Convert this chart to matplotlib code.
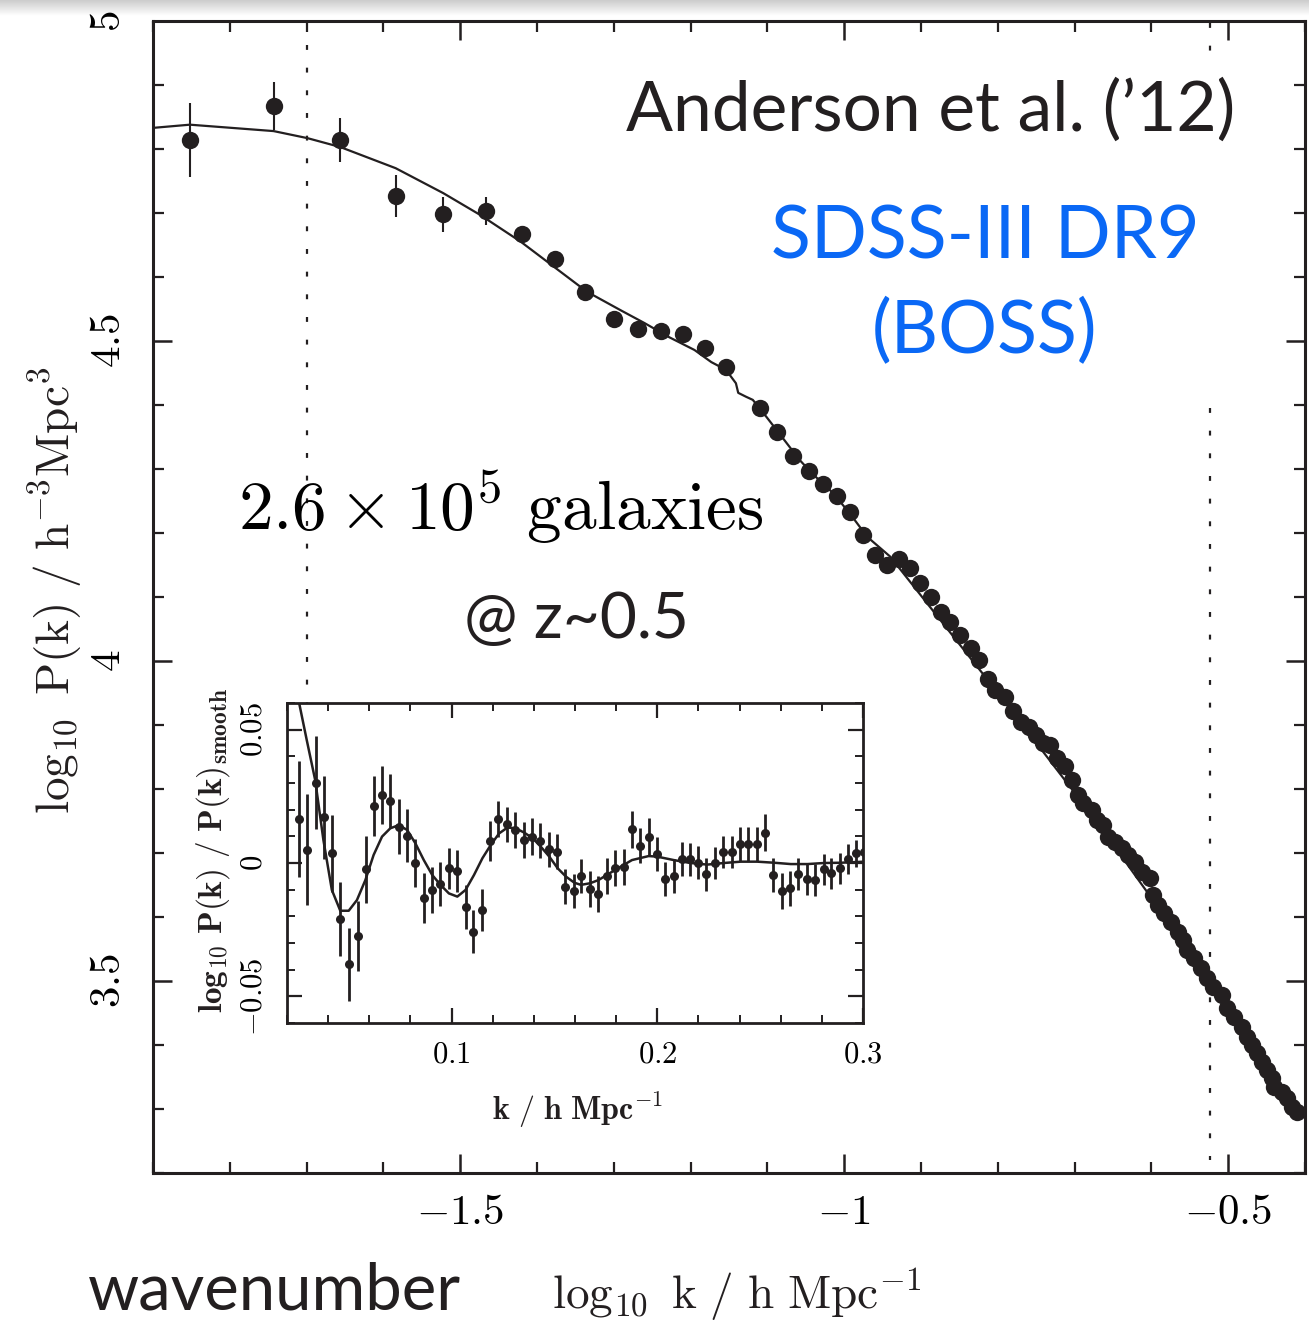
import matplotlib
matplotlib.use("Agg")
import matplotlib.pyplot as plt
import numpy as np
from matplotlib.ticker import FixedLocator, FixedFormatter, MultipleLocator

plt.rcParams['mathtext.fontset'] = 'cm'
plt.rcParams['axes.unicode_minus'] = True

# ---------------- main panel data: log10 k , log10 P(k) ----------------
main_logk = [-1.852, -1.743, -1.656, -1.583, -1.522, -1.467, -1.419, -1.377,
             -1.337, -1.300, -1.268, -1.238, -1.210, -1.181, -1.154, -1.109,
             -1.087, -1.067, -1.046, -1.028, -1.009, -0.992, -0.975, -0.960,
             -0.944, -0.928, -0.914, -0.901, -0.887, -0.874, -0.862, -0.849,
             -0.835, -0.824, -0.813, -0.803, -0.791, -0.780, -0.770, -0.760,
             -0.750, -0.741, -0.732, -0.723, -0.712, -0.704, -0.695, -0.689,
             -0.677, -0.671, -0.663, -0.656, -0.647, -0.638, -0.631, -0.622,
             -0.612, -0.602, -0.598, -0.592, -0.583, -0.574, -0.566, -0.559,
             -0.553, -0.544, -0.536, -0.528, -0.520, -0.508, -0.501, -0.492,
             -0.482, -0.475, -0.469, -0.462, -0.456, -0.449, -0.443, -0.440,
             -0.430, -0.423, -0.417, -0.410]
main_logP = [4.814, 4.867, 4.814, 4.727, 4.698, 4.703, 4.667, 4.628,
             4.577, 4.534, 4.519, 4.516, 4.511, 4.489, 4.459, 4.395,
             4.358, 4.320, 4.297, 4.277, 4.258, 4.233, 4.197, 4.166,
             4.150, 4.159, 4.145, 4.122, 4.100, 4.077, 4.061, 4.041,
             4.020, 4.002, 3.972, 3.955, 3.944, 3.922, 3.905, 3.897,
             3.884, 3.872, 3.869, 3.848, 3.836, 3.814, 3.791, 3.778,
             3.767, 3.752, 3.744, 3.725, 3.717, 3.708, 3.697, 3.686,
             3.670, 3.661, 3.634, 3.619, 3.606, 3.592, 3.577, 3.564,
             3.548, 3.536, 3.520, 3.505, 3.491, 3.478, 3.458, 3.444,
             3.428, 3.413, 3.400, 3.388, 3.373, 3.361, 3.348, 3.334,
             3.327, 3.317, 3.303, 3.295]
# error bars of the first (large-scale) points
main_err = [0.058, 0.037, 0.034, 0.033, 0.027, 0.022, 0.013, 0.010,
            0.010, 0.008, 0.007, 0.006, 0.006, 0.006, 0.006]

# best-fit model curve in the main panel
model_logk = [-1.900, -1.852, -1.743, -1.699, -1.656, -1.584, -1.522, -1.474,
              -1.421, -1.378, -1.335, -1.291, -1.260, -1.228, -1.195, -1.173,
              -1.154, -1.141, -1.138, -1.128, -1.119, -1.101, -1.081, -1.058,
              -1.040, -1.015, -0.993, -0.970, -0.940, -0.803, -0.673, -0.544,
              -0.408]
model_logP = [4.833, 4.838, 4.828, 4.817, 4.803, 4.770, 4.731, 4.697,
              4.655, 4.616, 4.577, 4.548, 4.528, 4.506, 4.486, 4.467,
              4.455, 4.434, 4.419, 4.413, 4.408, 4.381, 4.350, 4.314,
              4.291, 4.263, 4.231, 4.194, 4.163, 3.955, 3.752, 3.536,
              3.291]

# fitting range markers (log10 k)
range_lo = -1.700
range_hi = -0.524

# ---------------- inset data: k , log10 P/P_smooth ----------------
ins_k = [0.0259, 0.0299, 0.0340, 0.0380, 0.0418, 0.0459, 0.0499, 0.0543,
         0.0584, 0.0621, 0.0662, 0.0702, 0.0743, 0.0784, 0.0824, 0.0865,
         0.0906, 0.0946, 0.0987, 0.1028, 0.1068, 0.1106, 0.1146, 0.1187,
         0.1228, 0.1268, 0.1309, 0.1350, 0.1390, 0.1431, 0.1472, 0.1512,
         0.1553, 0.1594, 0.1629, 0.1673, 0.1714, 0.1755, 0.1795, 0.1836,
         0.1877, 0.1917, 0.1958, 0.1999, 0.2039, 0.2080, 0.2121, 0.2161,
         0.2199, 0.2239, 0.2280, 0.2320, 0.2361, 0.2402, 0.2442, 0.2483,
         0.2523, 0.2564, 0.2605, 0.2645, 0.2686, 0.2727, 0.2767, 0.2808,
         0.2845, 0.2886, 0.2927, 0.2966, 0.3006]
ins_r = [0.0164, 0.0049, 0.0301, 0.0171, 0.0036, -0.0211, -0.0380, -0.0273,
         -0.0024, 0.0214, 0.0254, 0.0232, 0.0136, 0.0102, 0.0000, -0.0130,
         -0.0101, -0.0079, -0.0020, -0.0030, -0.0164, -0.0258, -0.0176, 0.0082,
         0.0166, 0.0145, 0.0124, 0.0086, 0.0099, 0.0084, 0.0051, 0.0043,
         -0.0089, -0.0105, -0.0048, -0.0098, -0.0116, -0.0048, -0.0018, -0.0014,
         0.0126, 0.0065, 0.0099, 0.0034, -0.0060, -0.0048, 0.0014, 0.0014,
         0.0001, -0.0042, 0.0000, 0.0042, 0.0042, 0.0071, 0.0071, 0.0071,
         0.0114, -0.0045, -0.0105, -0.0095, -0.0042, -0.0061, -0.0064, -0.0024,
         -0.0039, -0.0020, 0.0015, 0.0036, 0.0042]
ins_err = [0.0217, 0.0208, 0.0174, 0.0155, 0.0144, 0.0139, 0.0137, 0.0132,
           0.0125, 0.0112, 0.0108, 0.0100, 0.0103, 0.0100, 0.0090, 0.0094,
           0.0086, 0.0083, 0.0078, 0.0077, 0.0083, 0.0080, 0.0080, 0.0075,
           0.0067, 0.0066, 0.0069, 0.0068, 0.0068, 0.0066, 0.0066, 0.0065,
           0.0065, 0.0064, 0.0064, 0.0068, 0.0068, 0.0068, 0.0067, 0.0067,
           0.0069, 0.0066, 0.0068, 0.0064, 0.0064, 0.0063, 0.0063, 0.0062,
           0.0062, 0.0062, 0.0061, 0.0061, 0.0061, 0.0065, 0.0065, 0.0065,
           0.0068, 0.0065, 0.0068, 0.0065, 0.0060, 0.0060, 0.0059, 0.0058,
           0.0058, 0.0057, 0.0056, 0.0052, 0.0050]
ins_model_k = [0.0259, 0.0296, 0.0337, 0.0377, 0.0418, 0.0459, 0.0500, 0.0540,
               0.0581, 0.0621, 0.0662, 0.0702, 0.0743, 0.0784, 0.0824, 0.0865,
               0.0906, 0.0946, 0.0987, 0.1028, 0.1068, 0.1109, 0.1150, 0.1190,
               0.1231, 0.1272, 0.1312, 0.1353, 0.1394, 0.1434, 0.1475, 0.1516,
               0.1556, 0.1597, 0.1629, 0.1673, 0.1714, 0.1795, 0.1877, 0.1958,
               0.1999, 0.2080, 0.2161, 0.2243, 0.2324, 0.2405, 0.2486, 0.2568,
               0.2649, 0.2730, 0.2811, 0.2893, 0.3006]
ins_model_r = [0.0600, 0.0461, 0.0311, 0.0086, -0.0101, -0.0179, -0.0179, -0.0139,
               -0.0064, 0.0030, 0.0099, 0.0130, 0.0142, 0.0124, 0.0074, 0.0011,
               -0.0045, -0.0082, -0.0114, -0.0126, -0.0101, -0.0045, 0.0018, 0.0067,
               0.0111, 0.0133, 0.0130, 0.0114, 0.0093, 0.0061, 0.0024, -0.0020,
               -0.0051, -0.0074, -0.0082, -0.0076, -0.0064, -0.0026, 0.0011, 0.0026,
               0.0024, 0.0011, 0.0000, -0.0006, 0.0000, 0.0005, 0.0005, 0.0001,
               -0.0004, -0.0004, 0.0000, 0.0001, 0.0005]

# ---------------- figure ----------------
W, H = 1309, 1325
fig = plt.figure(figsize=(W / 100, H / 100), dpi=100)
fig.patch.set_facecolor('white')

def fx(px):
    return px / W

def fy(py):
    return 1 - py / H

INK = '#231f20'

# slide shadow at the very top
gax = fig.add_axes([0, fy(16), 1, 16 / H])
grad = np.linspace(0.80, 1.0, 32).reshape(-1, 1)
gax.imshow(grad, aspect='auto', cmap='gray', vmin=0, vmax=1)
gax.set_axis_off()

ax = fig.add_axes([fx(153), fy(1173), fx(1305) - fx(153), fy(21) - fy(1173)])
ax.set_xlim(-1.9, -0.4)
ax.set_ylim(3.2, 5.0)
for s in ax.spines.values():
    s.set_linewidth(2.2)
    s.set_color(INK)

ax.xaxis.set_major_locator(FixedLocator([-1.5, -1.0, -0.5]))
ax.xaxis.set_major_formatter(FixedFormatter([r'$-1.5$', r'$-1$', r'$-0.5$']))
ax.xaxis.set_minor_locator(MultipleLocator(0.1))
ax.yaxis.set_major_locator(FixedLocator([3.5, 4.0, 4.5, 5.0]))
ax.yaxis.set_major_formatter(FixedFormatter([r'$3.5$', r'$4$', r'$4.5$', r'$5$']))
ax.yaxis.set_minor_locator(MultipleLocator(0.1))
ax.tick_params(which='both', direction='in', top=True, right=True, color=INK)
ax.tick_params(which='major', length=14, width=1.8, labelsize=31)
ax.tick_params(which='minor', length=8, width=1.6)
ax.tick_params(axis='x', which='major', pad=13)
ax.tick_params(axis='y', which='major', pad=17, labelrotation=90)
for lbl in ax.get_yticklabels():
    lbl.set_va('center')

dot = (0, (2.2, 8))
ax.plot([range_lo, range_lo], [4.963, 3.93], color=INK, lw=1.6, ls=dot, zorder=1)
ax.plot([range_hi, range_hi], [4.997, 4.950], color=INK, lw=1.6, ls=dot, zorder=1)
ax.plot([range_hi, range_hi], [4.395, 3.220], color=INK, lw=1.6, ls=dot, zorder=1)

ax.plot(model_logk, model_logP, color=INK, lw=1.6, zorder=2)
n_e = len(main_err)
ax.errorbar(main_logk[:n_e], main_logP[:n_e], yerr=main_err, fmt='none',
            ecolor=INK, elinewidth=1.5, capsize=0, zorder=3)
ax.plot(main_logk, main_logP, 'o', color=INK, ms=12.5, mew=0, zorder=4)

# ---------------- inset ----------------
ins = fig.add_axes([fx(287), fy(1023), fx(863) - fx(287), fy(703) - fy(1023)])
ins.set_facecolor('white')
ins.set_xlim(0.02, 0.3)
ins.set_ylim(-0.06, 0.06)
for s in ins.spines.values():
    s.set_linewidth(2.0)
    s.set_color(INK)
ins.xaxis.set_major_locator(FixedLocator([0.1, 0.2, 0.3]))
ins.xaxis.set_major_formatter(FixedFormatter([r'$\mathbf{0.1}$', r'$\mathbf{0.2}$', r'$\mathbf{0.3}$']))
ins.xaxis.set_minor_locator(MultipleLocator(0.02))
ins.yaxis.set_major_locator(FixedLocator([-0.05, 0.0, 0.05]))
ins.yaxis.set_major_formatter(FixedFormatter([r'$\mathbf{-0.05}$', r'$\mathbf{0}$', r'$\mathbf{0.05}$']))
ins.yaxis.set_minor_locator(MultipleLocator(0.01))
ins.tick_params(which='both', direction='in', top=True, right=True, color=INK)
ins.tick_params(which='major', length=11, width=1.6, labelsize=22)
ins.tick_params(which='minor', length=6, width=1.4)
ins.tick_params(axis='x', which='major', pad=12)
ins.tick_params(axis='y', which='major', pad=14, labelrotation=90)
for lbl in ins.get_yticklabels():
    lbl.set_va('center')

ins.plot(ins_model_k, ins_model_r, color=INK, lw=1.8, zorder=2)
ins.errorbar(ins_k, ins_r, yerr=ins_err, fmt='o', color=INK, ms=6.5, mew=0,
             ecolor=INK, elinewidth=2.0, capsize=0, zorder=3)

# ---------------- labels & annotations ----------------
fig.text(fx(737), fy(1295), r'$\log_{10}\ \mathrm{k}\ /\ \mathrm{h\ Mpc}^{-1}$',
         fontsize=34, ha='center', va='center', color=INK)
fig.text(fx(55), fy(590), r'$\log_{10}\ \mathrm{P(k)}\ /\ \mathrm{h}^{-3}\mathrm{Mpc}^{3}$',
         fontsize=34, ha='center', va='center', rotation=90, color=INK)
fig.text(fx(578), fy(1110), r'$\mathbf{k\ /\ h\ Mpc}^{\mathbf{-1}}$',
         fontsize=23, ha='center', va='center', color=INK)
fig.text(fx(213), fy(850),
         r'$\mathbf{log}_{\mathbf{10}}\ \mathbf{P(k)\ /\ P(k)}_{\mathbf{smooth}}$',
         fontsize=24, ha='center', va='center', rotation=90, color=INK)

fig.text(fx(88), fy(1309), 'wavenumber', fontfamily='Lato', fontsize=47,
         ha='left', va='baseline', color=INK)
fig.text(fx(931), fy(110), 'Anderson et al. (\u201912)', fontfamily='Lato',
         fontsize=50, ha='center', va='center', color=INK)
fig.text(fx(985), fy(238), 'SDSS-III DR9', fontfamily='Lato', fontsize=53,
         ha='center', va='center', color='#0a68f5')
fig.text(fx(985), fy(332), '(BOSS)', fontfamily='Lato', fontsize=53,
         ha='center', va='center', color='#0a68f5')
fig.text(fx(501), fy(507), r'$2.6\times10^{5}\ \mathrm{galaxies}$',
         fontsize=50, ha='center', va='center', color='black')
fig.text(fx(576), fy(620), '@ z~0.5', fontfamily='Lato', fontsize=46,
         ha='center', va='center', color=INK)

fig.savefig('out.png', dpi=100)
